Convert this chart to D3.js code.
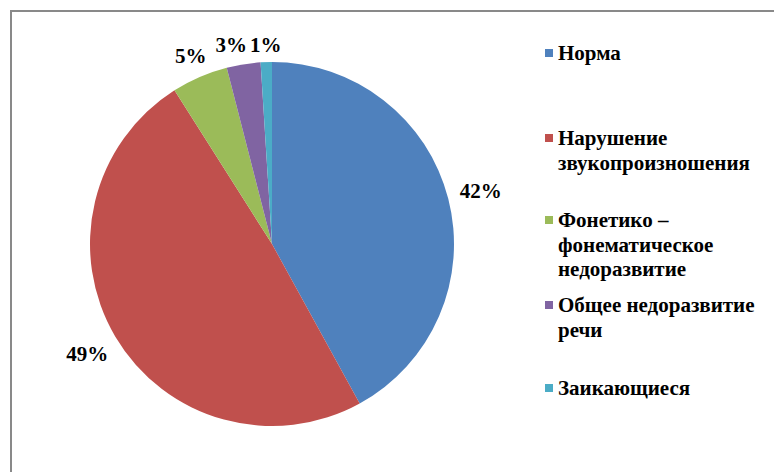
<!DOCTYPE html>
<html>
<head>
<meta charset="utf-8">
<script src="https://cdn.jsdelivr.net/npm/d3@7"></script>
<style>
body { margin: 0; background: #fff; }
</style>
</head>
<body>
<script>
// категории и значения (%)
var categories = ['Норма', 'Нарушение звукопроизношения', 'Фонетико – фонематическое недоразвитие', 'Общее недоразвитие речи', 'Заикающиеся'];
var values = [42, 49, 5, 3, 1];
var colors = ['#4F81BD', '#C0504D', '#9BBB59', '#8064A2', '#4BACC6'];
// строки легенды
var legendLines = [
    ['Норма'],
    ['Нарушение', 'звукопроизношения'],
    ['Фонетико –', 'фонематическое', 'недоразвитие'],
    ['Общее недоразвитие', 'речи'],
    ['Заикающиеся']
];
var legendY = [53, 138, 220, 305, 388];

var FONT = '"Liberation Serif", "Times New Roman", "DejaVu Serif", serif';

var svg = d3.select('body').append('svg')
    .attr('width', 774)
    .attr('height', 472)
    .attr('font-family', FONT)
    .attr('font-weight', 'bold');

// рамка
svg.append('rect')
    .attr('x', 11)
    .attr('y', 11)
    .attr('width', 800)
    .attr('height', 500)
    .attr('fill', 'none')
    .attr('stroke', '#898989')
    .attr('stroke-width', 2);

var cx = 272, cy = 244, r = 182, gap = 12;

var pie = d3.pie().sort(null).value(function(d){ return d; });
var arcs = pie(values);

var arc = d3.arc().innerRadius(0).outerRadius(r);

var g = svg.append('g').attr('transform', 'translate(' + cx + ',' + cy + ')');

g.selectAll('path')
    .data(arcs)
    .enter().append('path')
    .attr('d', arc)
    .attr('fill', function(d, i){ return colors[i]; });

// подписи: выносим за край круга с учётом размера текста
var boxes = [];
g.selectAll('text.lbl')
    .data(arcs)
    .enter().append('text')
    .attr('class', 'lbl')
    .attr('text-anchor', 'middle')
    .attr('dy', '0.35em')
    .style('font-size', '21px')
    .text(function(d){ return d.value + '%'; })
    .each(function(d){
        var b = this.getBBox();
        var a = (d.startAngle + d.endAngle) / 2;
        var s = Math.sin(a), c = Math.cos(a);
        var R = r + gap + Math.abs(s) * b.width / 2 + Math.abs(c) * 5;
        boxes.push({ el: this, x: R * s, y: -R * c, w: b.width });
    });

// раздвигаем соседние подписи, если они налезают друг на друга
for (var i = boxes.length - 2; i >= 0; i--) {
    var cur = boxes[i], nxt = boxes[i + 1];
    if (Math.abs(cur.y - nxt.y) < 20) {
        var over = (cur.x + cur.w / 2 + 3) - (nxt.x - nxt.w / 2);
        if (over > 0) cur.x -= over;
    }
}
boxes.forEach(function(b){
    d3.select(b.el).attr('x', b.x).attr('y', b.y);
});

// легенда
var leg = svg.append('g');
categories.forEach(function(c, i){
    leg.append('rect')
        .attr('x', 545)
        .attr('y', legendY[i] - 4)
        .attr('width', 8)
        .attr('height', 8)
        .attr('fill', colors[i]);
    var t = leg.append('text')
        .attr('x', 558)
        .attr('y', legendY[i])
        .style('font-size', '21px');
    legendLines[i].forEach(function(line, j){
        t.append('tspan')
            .attr('x', 558)
            .attr('dy', j === 0 ? '0.35em' : '1.15em')
            .text(line);
    });
});
</script>
</body>
</html>
